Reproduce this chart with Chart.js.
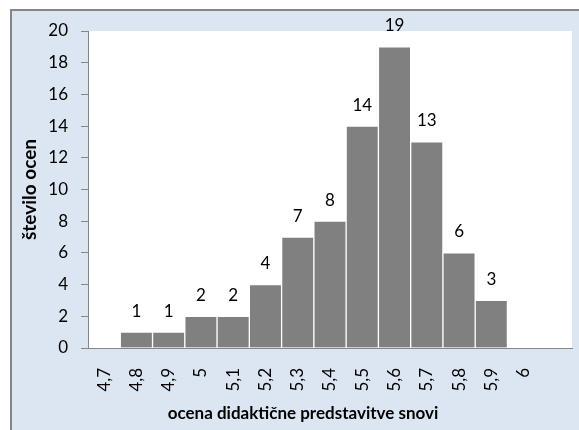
<!DOCTYPE html>
<html>
<head>
<meta charset="utf-8">
<script src="https://cdn.jsdelivr.net/npm/chart.js@4/dist/chart.umd.min.js"></script>
<style>
html,body{margin:0;padding:0;background:#fff;}
#wrap{position:relative;width:579px;height:430px;}
</style>
</head>
<body>
<div id="wrap"><canvas id="c" width="579" height="430"></canvas></div>
<script>
const categories = ['4,7','4,8','4,9','5','5,1','5,2','5,3','5,4','5,5','5,6','5,7','5,8','5,9','6',''];
const counts = [null,1,1,2,2,4,7,8,14,19,13,6,3,null,null];
const yTicks = {min:0, max:20, step:2};
const xTitle = 'ocena didaktične predstavitve snovi';
const yTitle = 'število ocen';

const FONT = 'Lato, "Open Sans", sans-serif';

const frame = {
  id:'frame',
  beforeDraw(chart){
    const ctx = chart.ctx;
    ctx.save();
    ctx.fillStyle = '#ffffff';
    ctx.fillRect(0,0,chart.width,chart.height);
    ctx.fillStyle = '#dce6f2';
    ctx.fillRect(11,10,chart.width-11,chart.height-10);
    ctx.fillStyle = '#868686';
    ctx.fillRect(10,9,chart.width-10,2);
    ctx.fillRect(10,9,2,chart.height-9);
    const a = chart.chartArea;
    ctx.fillStyle = '#ffffff';
    ctx.fillRect(a.left,a.top,a.right-a.left,a.bottom-a.top);
    ctx.restore();
  },
  afterDraw(chart){
    const ctx = chart.ctx;
    const a = chart.chartArea;
    ctx.save();
    ctx.fillStyle = '#000';
    ctx.textAlign = 'center';
    ctx.textBaseline = 'middle';
    ctx.font = 'bold 17px ' + FONT;
    ctx.fillText(xTitle, 303, 414);
    ctx.font = 'bold 19px ' + FONT;
    ctx.translate(30, (a.top + a.bottom)/2);
    ctx.rotate(-Math.PI/2);
    ctx.fillText(yTitle, 0, 0);
    ctx.restore();
    // value labels
    const meta = chart.getDatasetMeta(0);
    ctx.save();
    ctx.fillStyle = '#000';
    ctx.font = '17px ' + FONT;
    ctx.textAlign = 'center';
    ctx.textBaseline = 'middle';
    meta.data.forEach((el,i)=>{
      const v = counts[i];
      if (v === null || v === undefined) return;
      ctx.fillText(String(v), el.x, el.y - 21);
    });
    ctx.restore();
  }
};

new Chart(document.getElementById('c'), {
  type:'bar',
  data:{
    labels: categories,
    datasets:[{
      data: counts,
      backgroundColor:'#808080',
      borderColor:'#ffffff',
      borderWidth:1,
      barPercentage:1,
      categoryPercentage:1
    }]
  },
  options:{
    responsive:false,
    animation:false,
    events:[],
    layout:{padding:{left:0,right:7,top:31,bottom:0}},
    plugins:{legend:{display:false},tooltip:{enabled:false},title:{display:false}},
    scales:{
      x:{
        grid:{display:true,drawOnChartArea:false,drawTicks:false,color:'#868686'},
        border:{display:true,color:'#868686',width:1},
        ticks:{color:'#000',font:{family:FONT,size:17},minRotation:90,maxRotation:90,padding:20,autoSkip:false},
        afterFit(s){ s.height = 82; s.paddingLeft = 0; s.paddingRight = 0; }
      },
      y:{
        min:yTicks.min, max:yTicks.max,
        grid:{display:true,drawOnChartArea:false,drawTicks:true,tickLength:7,color:'#868686'},
        border:{display:true,color:'#868686',width:1},
        ticks:{stepSize:yTicks.step,color:'#000',font:{family:FONT,size:17},padding:13},
        afterFit(s){ s.width = 88; s.paddingTop = 0; s.paddingBottom = 0; }
      }
    }
  },
  plugins:[frame]
});
</script>
</body>
</html>
